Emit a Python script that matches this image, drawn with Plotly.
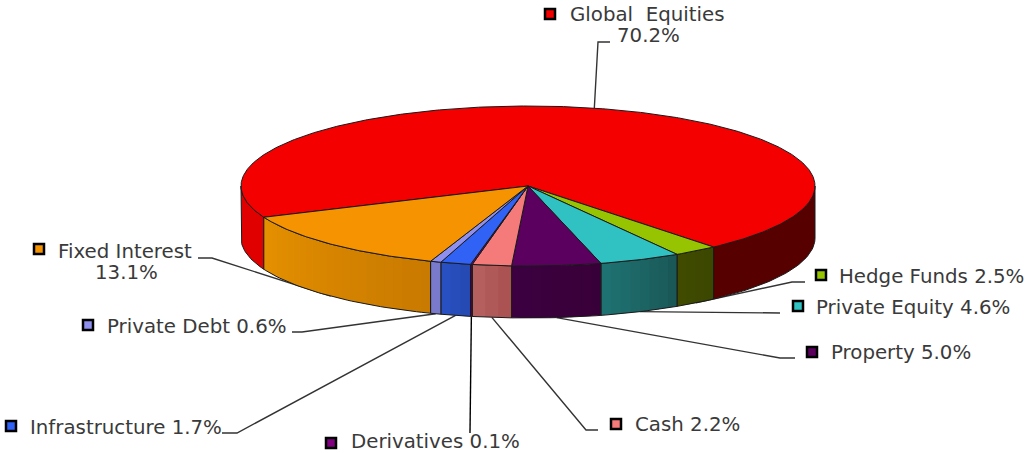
import math
import plotly.graph_objects as go

# ---- data ----
categories = ["Global  Equities", "Hedge Funds", "Private Equity", "Property", "Cash",
              "Derivatives", "Infrastructure", "Private Debt", "Fixed Interest"]
values = [70.2, 2.5, 4.6, 5.0, 2.2, 0.1, 1.7, 0.6, 13.1]
colors = ["#f50000", "#96c400", "#30c2c2", "#5c0060", "#f57a7a", "#800080", "#2f62f5", "#8f8ff0", "#f59300"]
side_left = ["#e00000", "#404c00", "#1f7474", "#3c0040", "#b86262", "#500050", "#2a52c4", "#8484d8", "#e69000"]
side_right = ["#560000", "#3c4600", "#1a5656", "#380038", "#a85050", "#500050", "#2448b0", "#7070c0", "#c87a00"]

# ---- geometry (layout only) ----
CX, CY, RX, RY, DEPTH = 528, 186, 287, 80, 52
START = 157.0

label_x = [568, 837, 814, 829, 633, 349, 28, 105, 56]
label_y = [14, 276, 307, 352, 424, 441, 427, 326, 251]
square_x = [550, 821, 798, 812, 616, 331, 11, 88, 39]
square_y = [14, 275, 306, 352, 424, 443, 426, 325, 249]
elbows = [[(598, 42), (610, 42)], [(792, 282), (805, 282)], [(780, 313)], [(780, 358), (795, 358)],
          [(586, 430), (598, 430)], [(470, 433)], [(237, 433), (222, 433)], [(302, 332), (292, 332)],
          [(212, 258), (198, 258)]]


def pt(a, dz=0):
    r = math.radians(a)
    return CX + RX * math.cos(r), CY + RY * math.sin(r) + dz


def arc(a0, a1, dz=0, step=1.0):
    n = max(2, int(abs(a1 - a0) / step) + 1)
    return [pt(a0 + (a1 - a0) * i / (n - 1), dz) for i in range(n)]


def mix(c0, c1, t):
    a = [int(c0[i:i + 2], 16) for i in (1, 3, 5)]
    b = [int(c1[i:i + 2], 16) for i in (1, 3, 5)]
    return "#" + "".join(f"{round(x + (y - x) * t):02x}" for x, y in zip(a, b))


def poly(points, fill=None, line=None, width=1.0, close=True):
    pts = list(points) + ([points[0]] if close else [])
    return go.Scatter(x=[p[0] for p in pts], y=[p[1] for p in pts], mode="lines",
                      fill="toself" if fill else "none", fillcolor=fill,
                      line=dict(color=line or fill or "#000", width=width if line else 0),
                      hoverinfo="skip", showlegend=False)


total = sum(values)
spans = []
a = START
for v in values:
    spans.append((a, a + v / total * 360))
    a += v / total * 360

fig = go.Figure()

# leader lines, behind the pie
for (a0, a1), el, i in zip(spans, elbows, range(len(values))):
    m = (a0 + a1) / 2
    start = pt(m, 0 if i == 0 else DEPTH)
    col = "#000000" if i == 5 else "#333333"
    fig.add_trace(poly([start] + el, line=col, width=1.4, close=False))

# side faces: only the front half of the ellipse can be seen
visible = []
for i, (a0, a1) in enumerate(spans):
    for lo, hi, lower in ((0, 180, True), (360, 540, False)):
        s0, s1 = max(a0, lo), min(a1, hi)
        if s1 > s0:
            visible.append((i, s0, s1, lower))

for i, a0, a1, lower in visible:
    if i == 0:
        c = side_left[0] if lower else side_right[0]
        fig.add_trace(poly(arc(a0, a1) + arc(a1, a0, DEPTH), fill=c))
    else:
        col0, col1 = side_right[i], side_left[i]
        steps = max(1, int((a1 - a0) / 2))
        for k in range(steps):
            s0 = a0 + (a1 - a0) * k / steps
            s1 = a0 + (a1 - a0) * (k + 1) / steps + (0.25 if k < steps - 1 else 0)
            c = mix(col0, col1, (k + 0.5) / steps)
            fig.add_trace(poly(arc(s0, s1) + arc(s1, s0, DEPTH), fill=c))
    fig.add_trace(poly(arc(a0, a1) + arc(a1, a0, DEPTH), line="#1a1a1a", width=1))

# top slices
for i, (a0, a1) in enumerate(spans):
    fig.add_trace(poly([(CX, CY)] + arc(a0, a1, step=0.5), fill=colors[i], line="#1a1a1a", width=1))

# legend squares
fig.add_trace(go.Scatter(x=square_x, y=square_y, mode="markers", hoverinfo="skip", showlegend=False,
                         marker=dict(symbol="square", size=10, color=colors, line=dict(color="#000000", width=2.5))))

# labels
TXT = dict(family="DejaVu Sans, Liberation Sans, sans-serif", size=19.8, color="#3a3a3a")
annots = []
for i, (c, v) in enumerate(zip(categories, values)):
    pct = f"{v:.1f}%"
    if i in (0, 8):
        annots.append(dict(x=label_x[i], y=label_y[i], text=c.replace("  ", "\u00a0\u00a0"), xanchor="left",
                           yanchor="middle", showarrow=False, font=TXT))
        annots.append(dict(x=648 if i == 0 else 126, y=35 if i == 0 else 272, text=pct, xanchor="center",
                           yanchor="middle", showarrow=False, font=TXT))
    else:
        annots.append(dict(x=label_x[i], y=label_y[i], text=f"{c} {pct}", xanchor="left",
                           yanchor="middle", showarrow=False, font=TXT))

fig.update_layout(width=1029, height=453, margin=dict(l=0, r=0, t=0, b=0),
                  paper_bgcolor="#ffffff", plot_bgcolor="#ffffff", showlegend=False, annotations=annots,
                  xaxis=dict(range=[0, 1029], visible=False, fixedrange=True),
                  yaxis=dict(range=[453, 0], visible=False, fixedrange=True))
fig.write_html("out.html", config=dict(displayModeBar=False),
               post_script="document.body.style.margin='0';document.body.style.overflow='hidden';")
